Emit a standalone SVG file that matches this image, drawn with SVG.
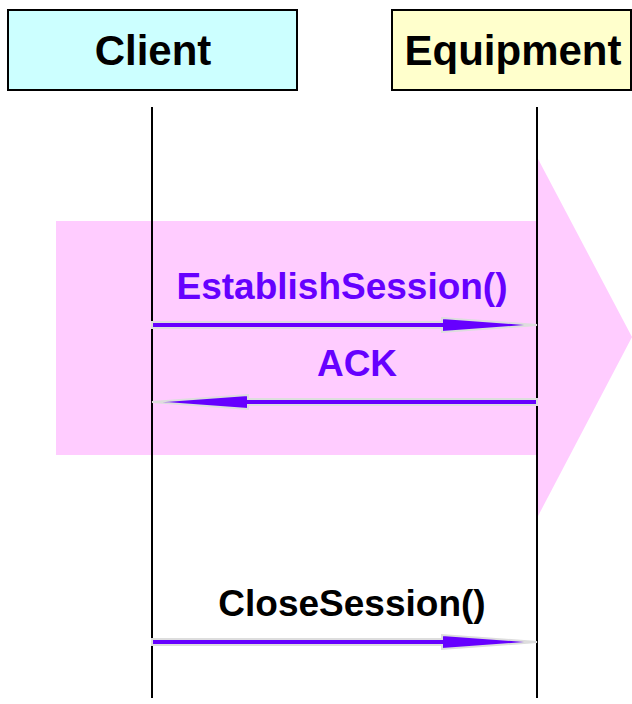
<svg xmlns="http://www.w3.org/2000/svg" width="632" height="704" viewBox="0 0 632 704">
<style>
.box{stroke:#000;stroke-width:2}
.hdr{font-family:"Liberation Sans",Arial,sans-serif;font-weight:bold;font-size:42px;fill:#000;text-anchor:middle}
.msg{font-family:"Liberation Sans",Arial,sans-serif;font-weight:bold;font-size:37px;text-anchor:middle}
.life{stroke:#000;stroke-width:2}
.arr{fill:#6600ff;stroke:#dddddd;stroke-width:2;stroke-linejoin:miter}
</style>
<rect width="632" height="704" fill="#fff"/>
<g id="phase">
<polygon points="56,221 537,221 537,157 632,337 537,518 537,455 56,455" fill="#ffccff"/>
</g>
<g id="client">
<rect class="box" x="8" y="10" width="289" height="80" fill="#ccffff"/>
<text class="hdr" x="153" y="65">Client</text>
</g>
<g id="equipment">
<rect class="box" x="392" y="10" width="239" height="80" fill="#ffffcc"/>
<text class="hdr" x="513" y="65">Equipment</text>
</g>
<g id="lifelines">
<line class="life" x1="152" y1="107" x2="152" y2="698"/>
<line class="life" x1="537" y1="107" x2="537" y2="698"/>
</g>
<g id="connectors">
<polygon class="arr" points="152,322 442,322 442,318 537,325 442,332 442,328 152,328"/>
<polygon class="arr" points="537,399 248,399 248,395 152,402 248,409 248,405 537,405"/>
<polygon class="arr" points="152,639 442,639 442,635 537,642 442,649 442,645 152,645"/>
</g>
<g id="labels">
<text class="msg" x="342" y="299" fill="#6600ff">EstablishSession()</text>
<text class="msg" x="357" y="376" fill="#6600ff">ACK</text>
<text class="msg" x="352" y="616" fill="#000">CloseSession()</text>
</g>
</svg>
